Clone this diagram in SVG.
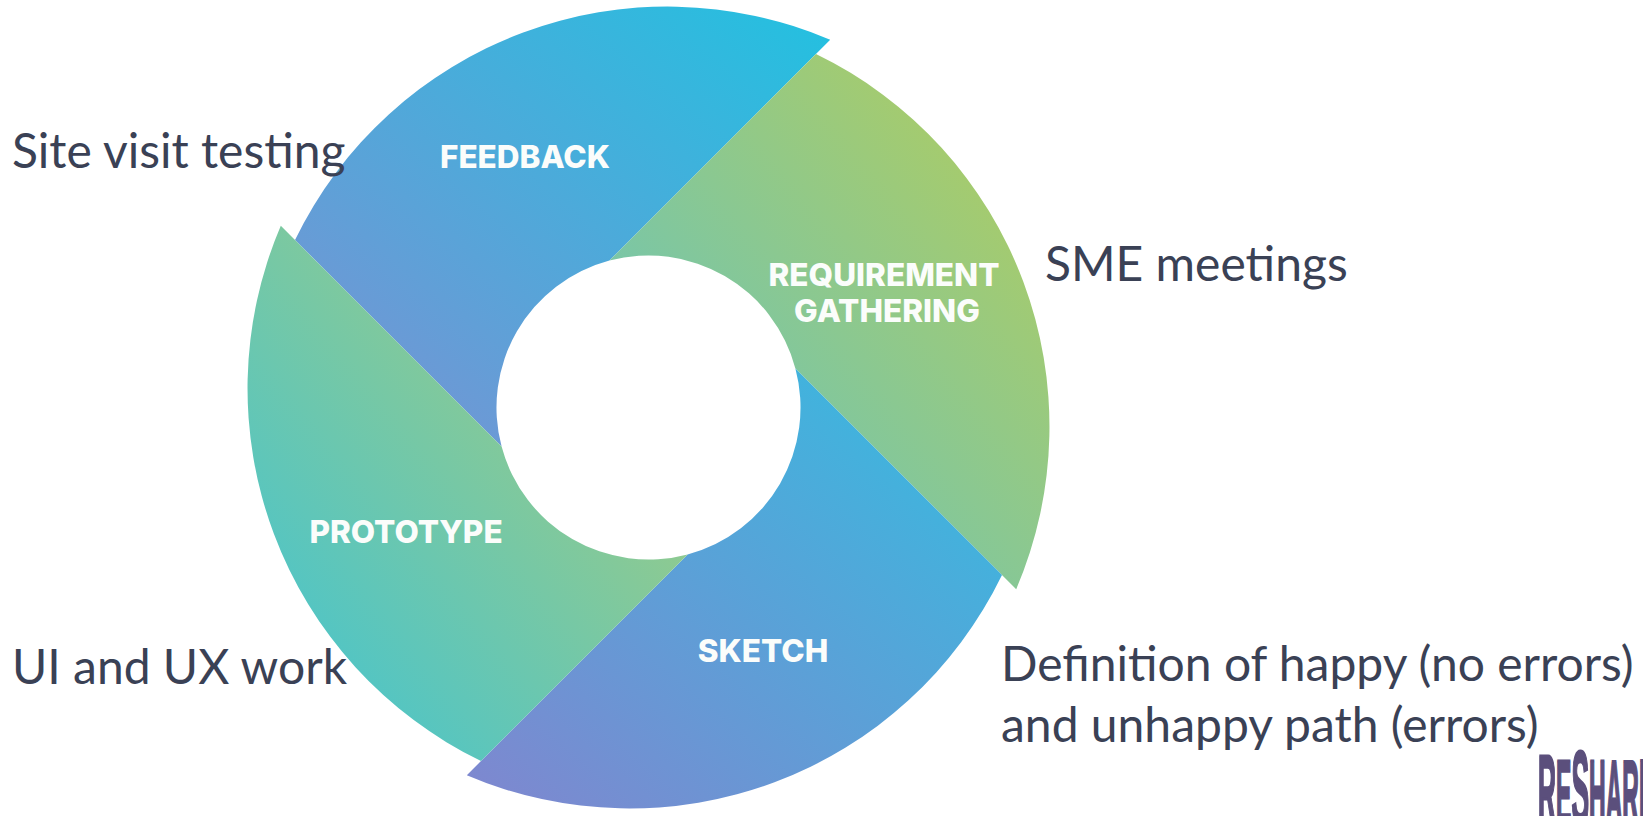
<svg xmlns="http://www.w3.org/2000/svg" width="1643" height="816" viewBox="0 0 1643 816">
  <defs>
    <linearGradient id="gFeedback" x1="0" y1="1" x2="1" y2="0">
      <stop offset="0" stop-color="#7d90d3"/>
      <stop offset="1" stop-color="#22c1e0"/>
    </linearGradient>
    <linearGradient id="gReq" x1="0" y1="1" x2="1" y2="0">
      <stop offset="0" stop-color="#5fc3ca"/>
      <stop offset="1" stop-color="#b6cd58"/>
    </linearGradient>
    <linearGradient id="gSketch" x1="0" y1="1" x2="1" y2="0">
      <stop offset="0" stop-color="#8086cf"/>
      <stop offset="1" stop-color="#33bde0"/>
    </linearGradient>
    <linearGradient id="gProto" x1="0" y1="1" x2="1" y2="0">
      <stop offset="0" stop-color="#3cc3d7"/>
      <stop offset="1" stop-color="#b2cd72"/>
    </linearGradient>
  </defs>
  <style>
    .lbl { font-family: Inter, "DejaVu Sans", sans-serif; font-weight: 800; font-size: 31.5px; fill: #fbfdfb; text-anchor: middle; }
    .note { font-family: Lato, "Liberation Sans", sans-serif; font-size: 48px; fill: #3a4155; }
    .logo { font-family: "Liberation Sans", Arial, sans-serif; font-weight: bold; fill: #5b4f7c; stroke: #5b4f7c; stroke-width: 3; }
  </style>
  <rect width="1643" height="816" fill="#ffffff"/>

  <g id="seg-feedback">
    <path fill="url(#gFeedback)" d="M 295 240 A 414 414 0 0 1 830.2 39.8 L 609.4 260.6 A 152 152 0 0 0 501.6 446.6 Z"/>
    <text class="lbl" x="525" y="168">FEEDBACK</text>
  </g>
  <g id="seg-requirement">
    <path fill="url(#gReq)" d="M 816 54 A 414 414 0 0 1 1016.2 589.2 L 795.4 368.4 A 152 152 0 0 0 609.4 260.6 Z"/>
    <text class="lbl" x="884" y="286">REQUIREMENT</text>
    <text class="lbl" x="887" y="322">GATHERING</text>
  </g>
  <g id="seg-sketch">
    <path fill="url(#gSketch)" d="M 1002 575 A 414 414 0 0 1 466.8 775.2 L 687.6 554.4 A 152 152 0 0 0 795.4 368.4 Z"/>
    <text class="lbl" x="763" y="662">SKETCH</text>
  </g>
  <g id="seg-prototype">
    <path fill="url(#gProto)" d="M 481 761 A 414 414 0 0 1 280.8 225.8 L 501.6 446.6 A 152 152 0 0 0 687.6 554.4 Z"/>
    <text class="lbl" x="406" y="543">PROTOTYPE</text>
  </g>

  <g id="connectors"/>

  <g id="note-site-visit">
    <text class="note" x="12" y="168">Site visit testing</text>
  </g>
  <g id="note-sme">
    <text class="note" x="1045" y="281">SME meetings</text>
  </g>
  <g id="note-ui-ux">
    <text class="note" x="12" y="684">UI and UX work</text>
  </g>
  <g id="note-definition">
    <text class="note" x="1001" y="681">Definition of happy (no errors)</text>
    <text class="note" x="1001" y="742">and unhappy path (errors)</text>
  </g>

  <g id="logo">
    <text class="logo" transform="translate(1538 825) scale(0.25 1)"><tspan font-size="100">R</tspan><tspan font-size="92">E</tspan><tspan font-size="106">S</tspan><tspan font-size="92">HARPER</tspan></text>
  </g>
</svg>
